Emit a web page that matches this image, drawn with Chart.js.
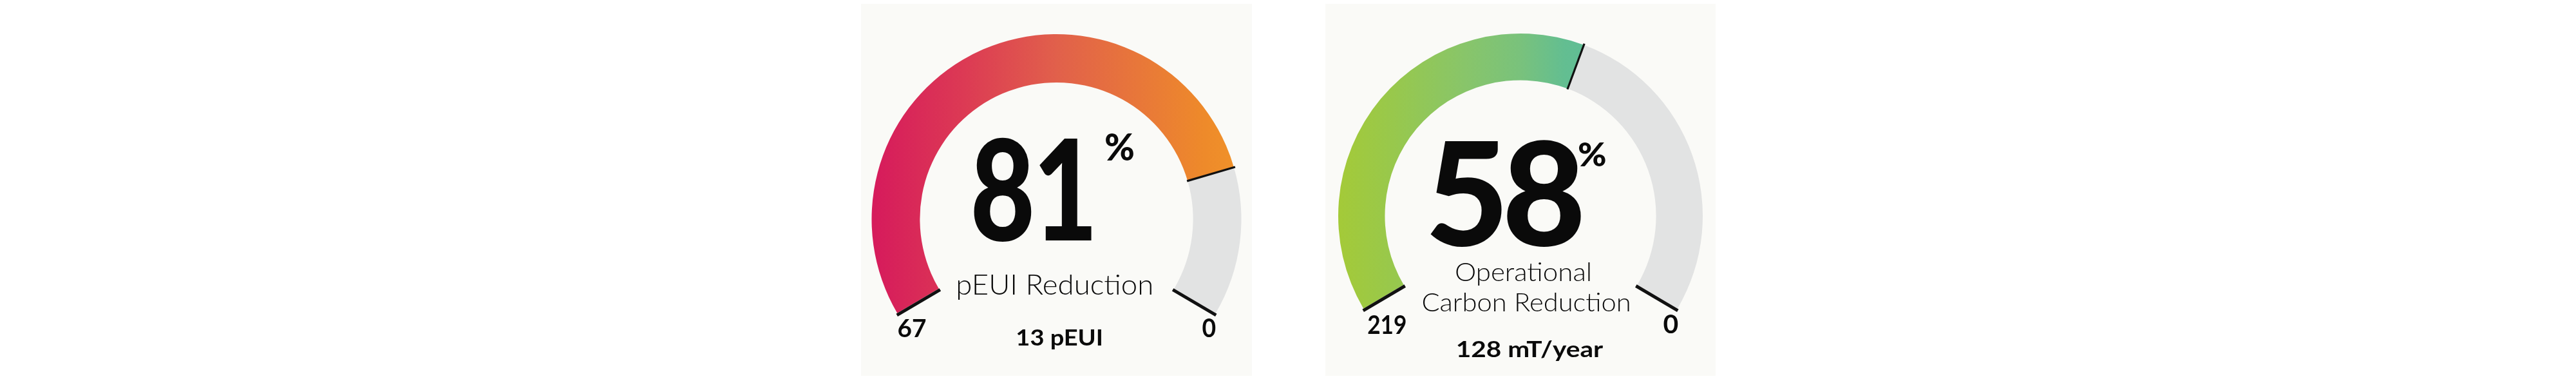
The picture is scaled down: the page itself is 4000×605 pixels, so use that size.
<!DOCTYPE html>
<html><head><meta charset="utf-8">
<script src="https://cdn.jsdelivr.net/npm/chart.js@4.4.1/dist/chart.umd.min.js"></script>
<style>
html,body{margin:0;padding:0;background:#ffffff;width:4000px;height:605px;overflow:hidden;}
.panel{position:absolute;background:#fafaf7;}
canvas{position:absolute;top:0;}
</style></head><body>
<div class="panel" id="p0"></div><div class="panel" id="p1"></div>
<canvas id="g0" width="607" height="605"></canvas>
<canvas id="g1" width="606" height="605"></canvas>
<script>
// ---- data ----
const gaugeKeys = ["pEUI", "Operational Carbon"];
const scaleStart = [67, 219];
const scaleEnd = [0, 0];
const reducedPart = [54, 128];
const remainingPart = [13, 91];
const percentText = ["81", "58"];
const titleLines = [["pEUI Reduction"], ["Operational", "Carbon Reduction"]];
const resultText = ["13 pEUI", "128 mT/year"];

// ---- styling / layout ----
const ROT = -120.5, CIRC = 241;
const GREY = '#e2e3e3';
const FAMILY = 'Lato, Roboto, "DejaVu Sans", sans-serif';
const layout = [
 { left:1337, width:607, panelTop:6, panelBottom:583, R:287, cy:340, cutout:'73.9%',
   grad:[[0,'#d61a5c'],[0.25,'#dc3a54'],[0.5,'#e1604b'],[0.75,'#e97a37'],[0.9,'#ee8a2a'],[1,'#f0932a']],
   big:{l:-128.5,r:54.5,top:-126,bot:35,gap:12},
   pct:{l:76.5,w:43,top:-133,h:42},
   title:[{c:-2.5,w:301,base:117,h:31}],
   start:{c:-224.5,w:43,top:155,bot:183},
   end:{c:236.5,w:21,top:154,bot:183},
   result:{c:4.5,w:131,top:170,bot:196} },
 { left:2058, width:606, panelTop:6, panelBottom:583, R:283, cy:335, cutout:'74.4%',
   grad:[[0,'#a4ca38'],[0.15,'#98c84c'],[0.35,'#88c56a'],[0.5,'#79c27c'],[0.62,'#63be91'],[1,'#4fb8a8']],
   big:{l:-140,r:94,top:-117,bot:48,gap:8},
   pct:{l:90,w:42,top:-115,h:38},
   title:[{c:4,w:208,base:101,h:29},{c:9,w:321,base:148,h:29}],
   start:{c:-207.5,w:59,top:153,bot:183},
   end:{c:233,w:23,top:153,bot:182},
   result:{c:15,w:226,top:193,bot:219} }
];

function setFont(ctx, weight, size) {
  ctx.font = weight + ' ' + size.toFixed(2) + 'px ' + FAMILY;
}

function drawFitBox(ctx, text, weight, refChar, inkLeft, inkW, top, bottom) {
  setFont(ctx, weight, 100);
  const ref = ctx.measureText(refChar);
  const refH = ref.actualBoundingBoxAscent + ref.actualBoundingBoxDescent;
  const size = 100 * (bottom - top) / refH;
  setFont(ctx, weight, size);
  const r2 = ctx.measureText(refChar);
  const m = ctx.measureText(text);
  const w = m.actualBoundingBoxLeft + m.actualBoundingBoxRight;
  const sx = inkW / w;
  const baseline = bottom - r2.actualBoundingBoxDescent;
  ctx.save();
  ctx.translate(inkLeft, baseline);
  ctx.scale(sx, 1);
  ctx.textAlign = 'left'; ctx.textBaseline = 'alphabetic';
  ctx.fillText(text, m.actualBoundingBoxLeft, 0);
  ctx.restore();
}

function drawDigits(ctx, text, weight, spec, cx, cy) {
  setFont(ctx, weight, 100);
  const full = ctx.measureText(text);
  const H = full.actualBoundingBoxAscent + full.actualBoundingBoxDescent;
  const size = 100 * (spec.bot - spec.top) / H;
  setFont(ctx, weight, size);
  const mm = ctx.measureText(text);
  const chars = text.split('');
  const ms = chars.map(ch => ctx.measureText(ch));
  const inks = ms.map(m => m.actualBoundingBoxLeft + m.actualBoundingBoxRight);
  const sum = inks.reduce((a, b) => a + b, 0);
  const sx = ((spec.r - spec.l) - spec.gap * (chars.length - 1)) / sum;
  const baseline = cy + spec.bot - mm.actualBoundingBoxDescent;
  let x = cx + spec.l;
  ctx.textAlign = 'left'; ctx.textBaseline = 'alphabetic';
  chars.forEach((ch, k) => {
    ctx.save();
    ctx.translate(x, baseline);
    ctx.scale(sx, 1);
    ctx.fillText(ch, ms[k].actualBoundingBoxLeft, 0);
    ctx.restore();
    x += inks[k] * sx + spec.gap;
  });
}

const gaugeDeco = {
  id: 'gaugeDeco',
  afterDatasetsDraw(chart, args, opts) {
    const ctx = chart.ctx;
    const arcs = chart.getDatasetMeta(0).data;
    const first = arcs[0], last = arcs[arcs.length - 1];
    const cx = first.x, cy = first.y;
    const rin = first.innerRadius, rout = first.outerRadius;
    const line = (ang, w, shift) => {
      const ox = -Math.sin(ang) * shift, oy = Math.cos(ang) * shift;
      ctx.beginPath();
      ctx.moveTo(cx + Math.cos(ang) * (rin - 1) + ox, cy + Math.sin(ang) * (rin - 1) + oy);
      ctx.lineTo(cx + Math.cos(ang) * (rout + 2) + ox, cy + Math.sin(ang) * (rout + 2) + oy);
      ctx.lineWidth = w; ctx.strokeStyle = '#111'; ctx.lineCap = 'butt';
      ctx.stroke();
    };
    ctx.save();
    line(first.startAngle, 5, -2.5);
    line(last.endAngle, 5, 2.5);
    line(first.endAngle, 3.2, 0);
    ctx.restore();
  },
  afterDraw(chart, args, opts) {
    const i = opts.index;
    const L = layout[i];
    const ctx = chart.ctx;
    const a = chart.getDatasetMeta(0).data[0];
    const cx = a.x, cy = a.y;
    ctx.save();
    ctx.fillStyle = '#0a0a0a';
    drawDigits(ctx, percentText[i], '900', L.big, cx, cy);
    drawFitBox(ctx, '%', '900', '%', cx + L.pct.l, L.pct.w, cy + L.pct.top, cy + L.pct.top + L.pct.h);
    titleLines[i].forEach((t, k) => {
      const s = L.title[k];
      drawFitBox(ctx, t, '300', 'H', cx + s.c - s.w / 2, s.w, cy + s.base - s.h, cy + s.base);
    });
    const lab = (txt, s) => drawFitBox(ctx, txt, '700', '8', cx + s.c - s.w / 2, s.w, cy + s.top, cy + s.bot);
    lab(String(scaleStart[i]), L.start);
    lab(String(scaleEnd[i]), L.end);
    lab(resultText[i], L.result);
    ctx.restore();
  }
};

function makeGauge(i) {
  const L = layout[i];
  const p = document.getElementById('p' + i);
  p.style.left = L.left + 'px'; p.style.width = L.width + 'px';
  p.style.top = L.panelTop + 'px'; p.style.height = (L.panelBottom - L.panelTop) + 'px';
  const cv = document.getElementById('g' + i);
  cv.style.left = L.left + 'px';
  const endDrop = Math.sin((ROT + CIRC - 90) * Math.PI / 180) * L.R;
  const padTop = L.cy - L.R;
  const padBottom = 605 - (L.cy + endDrop);
  new Chart(cv, {
    type: 'doughnut',
    data: {
      labels: ['Reduction', 'Remaining'],
      datasets: [{
        data: [reducedPart[i], remainingPart[i]],
        backgroundColor: (c) => {
          if (c.dataIndex !== 0) return GREY;
          const ch = c.chart; const area = ch.chartArea;
          if (!area) return L.grad[0][1];
          const mx = (area.left + area.right) / 2;
          const g = ch.ctx.createLinearGradient(mx - L.R, 0, mx + L.R, 0);
          L.grad.forEach(s => g.addColorStop(s[0], s[1]));
          return g;
        },
        borderWidth: 0,
        hoverOffset: 0
      }]
    },
    options: {
      responsive: false,
      devicePixelRatio: 1,
      animation: false,
      events: [],
      rotation: ROT,
      circumference: CIRC,
      cutout: L.cutout,
      radius: L.R,
      layout: { padding: { top: padTop, bottom: padBottom, left: 0, right: 0 } },
      plugins: { legend: { display: false }, tooltip: { enabled: false }, gaugeDeco: { index: i } }
    },
    plugins: [gaugeDeco]
  });
}
makeGauge(0);
makeGauge(1);
</script>
</body></html>
